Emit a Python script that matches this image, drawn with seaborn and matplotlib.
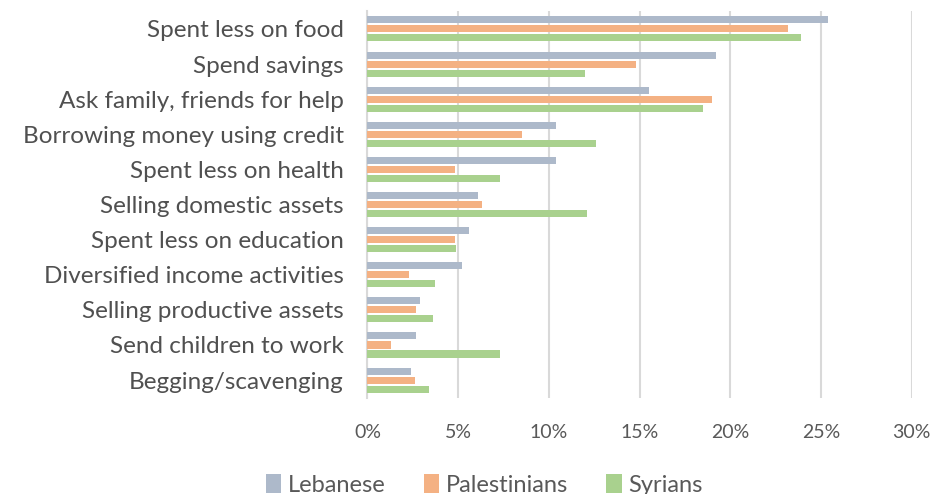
import seaborn as sns
import pandas as pd
import matplotlib.pyplot as plt
from matplotlib.ticker import PercentFormatter

# coping strategies, share of households (%)
categories = ["Spent less on food", "Spend savings", "Ask family, friends for help",
              "Borrowing money using credit", "Spent less on health",
              "Selling domestic assets", "Spent less on education",
              "Diversified income activities", "Selling productive assets",
              "Send children to work", "Begging/scavenging"]
lebanese = [25.4, 19.2, 15.5, 10.4, 10.4, 6.1, 5.6, 5.2, 2.9, 2.7, 2.4]
palestinians = [23.2, 14.8, 19.0, 8.5, 4.8, 6.3, 4.8, 2.3, 2.7, 1.3, 2.6]
syrians = [23.9, 12.0, 18.5, 12.6, 7.3, 12.1, 4.9, 3.7, 3.6, 7.3, 3.4]
groups = ["Lebanese", "Palestinians", "Syrians"]
colors = ["#ADB9CA", "#F4B183", "#A9D18E"]

df = pd.DataFrame({
    "category": categories * 3,
    "group": [groups[0]] * 11 + [groups[1]] * 11 + [groups[2]] * 11,
    "value": lebanese + palestinians + syrians,
})

sns.set_style("white")
plt.rcParams['font.family'] = ['Lato', 'DejaVu Sans']

fig, ax = plt.subplots(figsize=(9.35, 4.94), dpi=100)
fig.subplots_adjust(left=0.393, right=0.975, top=0.977, bottom=0.195)

sns.barplot(data=df, y="category", x="value", hue="group", order=categories,
            hue_order=groups, palette=colors, width=0.77, gap=0.22,
            saturation=1, linewidth=0, ax=ax, zorder=3)

ax.set_xlim(0, 30)
ax.set_xticks([0, 5, 10, 15, 20, 25, 30])
ax.xaxis.set_major_formatter(PercentFormatter(decimals=0))
ax.grid(axis="x", color="#D9D9D9", linewidth=1.5, zorder=0)
ax.set_axisbelow(True)
ax.set_xlabel("")
ax.set_ylabel("")
for s in ["top", "right", "bottom"]:
    ax.spines[s].set_visible(False)
ax.spines["left"].set_color("#D9D9D9")
ax.spines["left"].set_linewidth(1.5)
ax.tick_params(axis="y", length=0, pad=17, labelsize=17.5, labelcolor="#505050")
ax.tick_params(axis="x", length=0, pad=19, labelsize=14, labelcolor="#595959")

ax.legend(loc="center", bbox_to_anchor=(0.215, -0.225), ncol=3, frameon=False,
          fontsize=17, handlelength=0.65, handleheight=0.9, handletextpad=0.3,
          columnspacing=1.6, labelcolor="#595959")

plt.savefig("out.png")
